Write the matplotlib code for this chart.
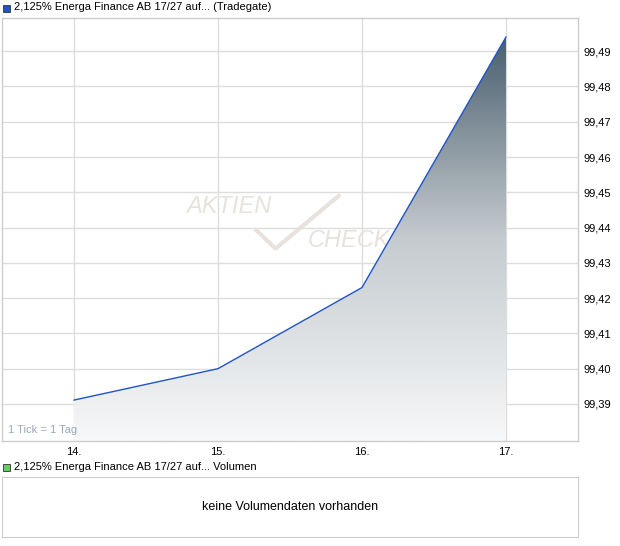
import matplotlib
matplotlib.use("Agg")
import matplotlib.pyplot as plt
import numpy as np
from matplotlib.patches import Polygon, Rectangle
from matplotlib.colors import LinearSegmentedColormap

# Kursdaten (Tradegate)
tage = [14, 15, 16, 17]
tag_labels = ["14.", "15.", "16.", "17."]
kurse = [99.3911, 99.4000, 99.4230, 99.4940]
y_ticks = [99.39, 99.40, 99.41, 99.42, 99.43, 99.44, 99.45, 99.46, 99.47, 99.48, 99.49]

W, H = 620, 546
fig = plt.figure(figsize=(W / 100, H / 100), dpi=100)
plt.rcParams['font.family'] = ['Liberation Sans', 'DejaVu Sans']

def box(x0, y0, x1, y1):
    return [x0 / W, 1 - y1 / H, (x1 - x0) / W, (y1 - y0) / H]

# Hauptchart
ax = fig.add_axes(box(2, 18, 578, 441))
ax.set_xlim(13.5, 17.5)
ax.set_ylim(99.3795, 99.4994)
for s in ax.spines.values():
    s.set_color('#cccccc')
    s.set_linewidth(1)
ax.set_xticks(tage)
ax.set_xticklabels(tag_labels, fontsize=8)
ax.set_yticks(y_ticks)
ax.set_yticklabels([("%.2f" % v).replace('.', ',') for v in y_ticks], fontsize=8)
ax.yaxis.tick_right()
ax.tick_params(length=0, pad=4)
ax.grid(True, color='#dddddd', linewidth=1)
ax.set_axisbelow(True)

# Flaeche mit Verlauf
ymin = ax.get_ylim()[0]
verts = [(tage[0], ymin)] + list(zip(tage, kurse)) + [(tage[-1], ymin)]
poly = Polygon(verts, closed=True, facecolor='none', edgecolor='none')
ax.add_patch(poly)
cmap = LinearSegmentedColormap.from_list('g', ['#f7f8f9', '#c5cbcf', '#4a5f6e'])
grad = np.linspace(0, 1, 256).reshape(-1, 1)
im = ax.imshow(grad, cmap=cmap, origin='lower', aspect='auto',
               extent=[tage[0], tage[-1], ymin, max(kurse)], zorder=2)
im.set_clip_path(poly)
ax.plot(tage, kurse, color='#1f55c8', linewidth=1, zorder=3)

# Wasserzeichen
ax.text(0.32, 0.555, "AKTIEN", transform=ax.transAxes, fontsize=17, style='italic',
        color='#e8e2dc', ha='left', va='center', zorder=1)
ax.text(0.53, 0.475, "CHECK", transform=ax.transAxes, fontsize=17, style='italic',
        color='#e8e2dc', ha='left', va='center', zorder=1)
ax.plot([0.44, 0.475, 0.585], [0.50, 0.455, 0.58], transform=ax.transAxes,
        color='#e8e2dc', linewidth=3, zorder=1, solid_capstyle='round')

ax.text(0.01, 0.015, "1 Tick = 1 Tag", transform=ax.transAxes, fontsize=8,
        color='#9aa8b8', ha='left', va='bottom', zorder=4)

# Legende oben
fig.add_artist(Rectangle((3 / W, 1 - 12 / H), 7 / W, 7 / H, transform=fig.transFigure,
                         facecolor='#1f55c8', edgecolor='#333333', linewidth=0.6))
fig.text(14 / W, 1 - 7 / H, "2,125% Energa Finance AB 17/27 auf... (Tradegate)",
         fontsize=8, va='center', ha='left')

# Volumen
fig.add_artist(Rectangle((3 / W, 1 - 471 / H), 7 / W, 7 / H, transform=fig.transFigure,
                         facecolor='#66cc66', edgecolor='#333333', linewidth=0.6))
fig.text(14 / W, 1 - 467 / H, "2,125% Energa Finance AB 17/27 auf... Volumen",
         fontsize=8, va='center', ha='left')
ax2 = fig.add_axes(box(2, 477, 578, 537))
ax2.set_xticks([])
ax2.set_yticks([])
for s in ax2.spines.values():
    s.set_color('#cccccc')
ax2.text(0.5, 0.5, "keine Volumendaten vorhanden", transform=ax2.transAxes,
         fontsize=9, ha='center', va='center')

fig.savefig("out.png", dpi=100)
